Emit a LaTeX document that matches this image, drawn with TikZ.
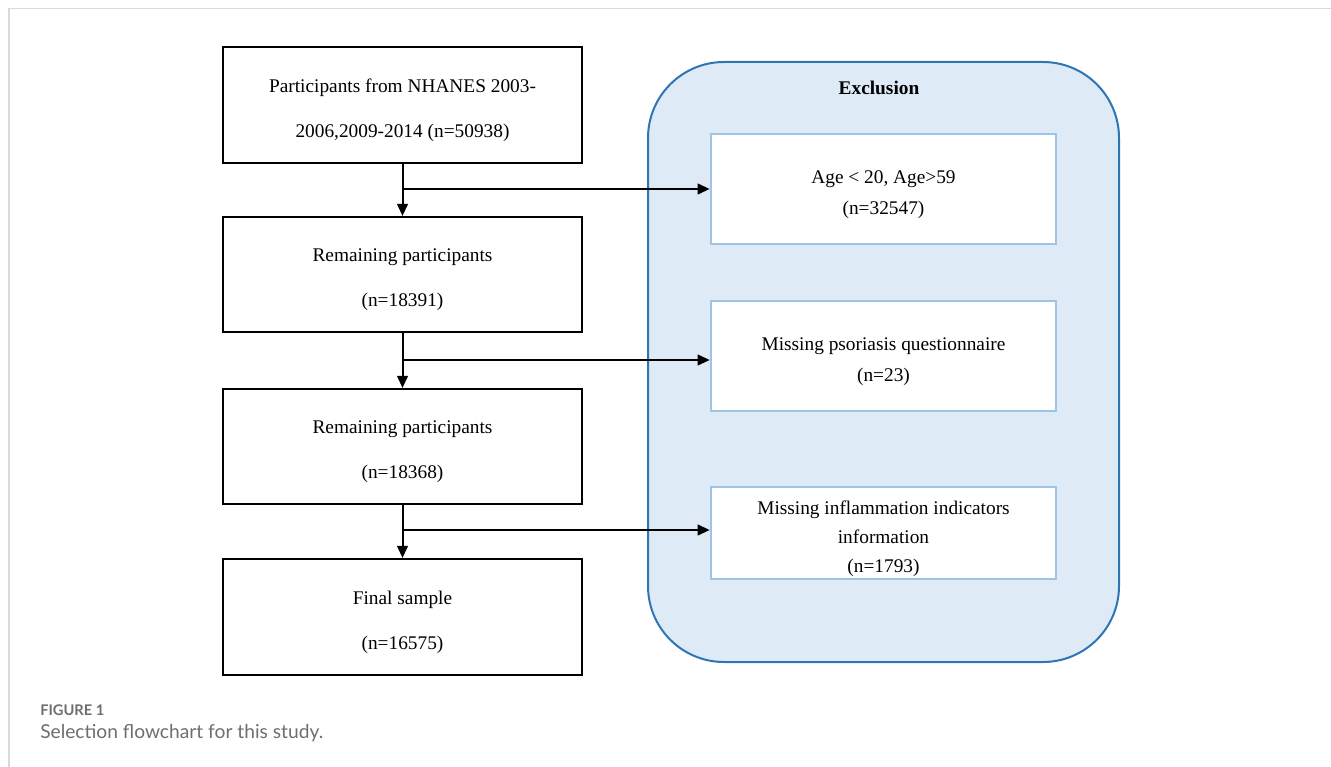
\documentclass[tikz,border=0pt]{standalone}
\usepackage{fontspec}
\setmainfont{Liberation Serif}
\newfontfamily\capfont{Lato}
\usetikzlibrary{arrows.meta}
\definecolor{exfill}{HTML}{DEEAF6}
\definecolor{exline}{HTML}{2E75B6}
\definecolor{inline}{HTML}{9DC3E6}
\definecolor{framegray}{HTML}{DADADA}
\definecolor{capgray}{HTML}{6E6E6E}
\tikzset{
  mainbox/.style={draw=black, line width=1.6pt, fill=white, minimum width=269.25pt, inner sep=0pt},
  maintext/.style={align=center, inner sep=0pt, yshift=-3.75pt, font=\fontsize{14.5}{33.75}\selectfont},
  exbox/.style={draw=inline, line width=2pt, fill=white, minimum width=258.75pt,
    minimum height=82.5pt, inner sep=0pt},
  extext/.style={align=center, inner sep=0pt, yshift=-4.5pt, font=\fontsize{14.5}{23.25}\selectfont},
  arr/.style={draw=black, line width=1.5pt, -{Triangle[length=9pt,width=8pt]}},
}
\begin{document}
\begin{tikzpicture}[x=0.75pt, y=-0.75pt]
\useasboundingbox (0,0) rectangle (1331,767);
% frame
\draw[framegray, line width=1.2pt] (9,767) -- (9,8.5) -- (1331,8.5);
% exclusion panel
\draw[exline, fill=exfill, line width=1.5pt, rounded corners=57pt] (648,62) rectangle (1119,662);
\node[font=\fontsize{14.5}{16}\selectfont\bfseries] (extitle) at (879,88) {Exclusion};
% left boxes
\node[mainbox, minimum height=87pt] (b1) at (402.5,105) {};
\node[maintext] (b1t) at (b1) {Participants from NHANES 2003-\\2006,2009-2014 (n=50938)};
\node[mainbox, minimum height=86.25pt] (b2) at (402.5,274.5) {};
\node[maintext] (b2t) at (b2) {Remaining participants\\(n=18391)};
\node[mainbox, minimum height=86.25pt] (b3) at (402.5,446.5) {};
\node[maintext] (b3t) at (b3) {Remaining participants\\(n=18368)};
\node[mainbox, minimum height=87pt] (b4) at (402.5,617) {};
\node[maintext] (b4t) at (b4) {Final sample\\(n=16575)};
% exclusion boxes
\node[exbox] (e1) at (883.5,189) {};
\node[extext] (e1t) at (e1) {Age {\char`\<} 20, Age{\char`\>}59\\(n=32547)};
\node[exbox] (e2) at (883.5,356) {};
\node[extext] (e2t) at (e2) {Missing psoriasis questionnaire\\(n=23)};
\node[exbox, minimum height=69pt] (e3) at (883.5,533) {};
\node[extext, font=\fontsize{14.5}{21.75}\selectfont] (e3t) at (e3) {Missing inflammation indicators\\information\\(n=1793)};
% connectors
\draw[arr] (b1.south) -- (b2.north);
\draw[arr] (b2.south) -- (b3.north);
\draw[arr] (b3.south) -- (b4.north);
\coordinate (j1) at (402.5,189);
\coordinate (j2) at (402.5,360);
\coordinate (j3) at (402.5,530);
\draw[arr] (j1) -- (j1 -| e1.west);
\draw[arr] (j2) -- (j2 -| e2.west);
\draw[arr] (j3) -- (j3 -| e3.west);
% caption
\node[anchor=base west, inner sep=0pt, text=capgray, font=\capfont\fontsize{11}{13}\selectfont\bfseries] (cap1) at (40,715) {FIGURE 1};
\node[anchor=base west, inner sep=0pt, text=capgray, font=\capfont\fontsize{14.4}{17}\selectfont] (cap2) at (40,738) {Selection flowchart for this study.};
\end{tikzpicture}
\end{document}
